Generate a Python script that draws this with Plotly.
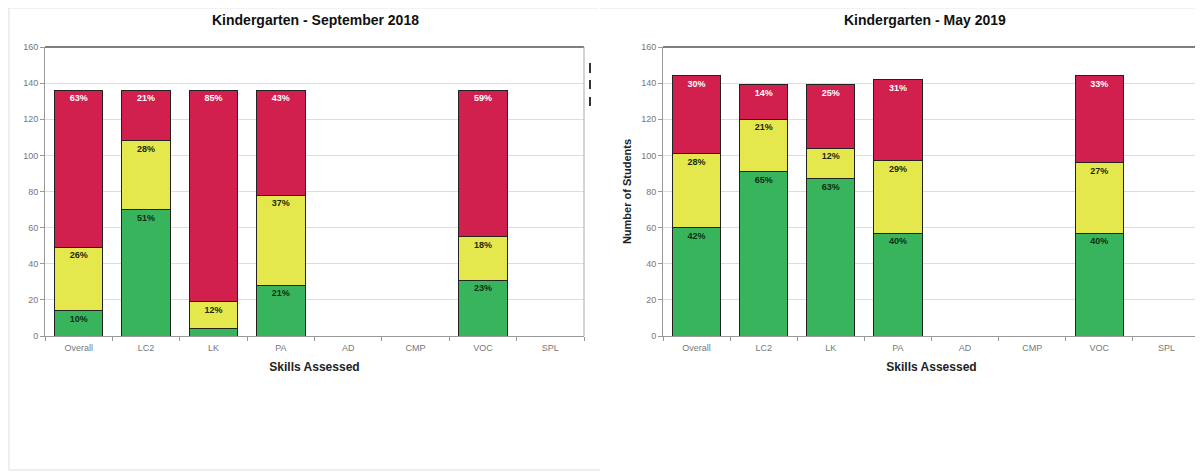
import plotly.graph_objects as go

# page body has an 8px margin; keep the figure inside the 1203x474 window
OFF = 8
W, H = 1203 - OFF, 474 - OFF

categories = ["Overall", "LC2", "LK", "PA", "AD", "CMP", "VOC", "SPL"]

# September 2018 (number of students per level)
sep_green = [14, 70, 4, 28, 0, 0, 31, 0]
sep_yellow = [35, 38, 15, 50, 0, 0, 24, 0]
sep_red = [87, 28, 117, 58, 0, 0, 81, 0]
sep_green_lbl = ["10%", "51%", "", "21%", "", "", "23%", ""]
sep_yellow_lbl = ["26%", "28%", "12%", "37%", "", "", "18%", ""]
sep_red_lbl = ["63%", "21%", "85%", "43%", "", "", "59%", ""]

# May 2019
may_green = [60, 91, 87, 57, 0, 0, 57, 0]
may_yellow = [41, 29, 17, 40, 0, 0, 39, 0]
may_red = [43, 19, 35, 45, 0, 0, 48, 0]
may_green_lbl = ["42%", "65%", "63%", "40%", "", "", "40%", ""]
may_yellow_lbl = ["28%", "21%", "12%", "29%", "", "", "27%", ""]
may_red_lbl = ["30%", "14%", "25%", "31%", "", "", "33%", ""]

GREEN = "#38b55c"
YELLOW = "#e4e84c"
RED = "#d2204e"
FONT = "Liberation Sans, Arial, sans-serif"

def X(p):
    return min(1.0, max(0.0, (p - OFF) / W))

def Y(p):
    return min(1.0, max(0.0, 1 - (p - OFF) / H))

fig = go.Figure()

def add_stack(xa, ya, g, y, r, gl, yl, rl):
    for vals, lbls, col, tcol in [(g, gl, GREEN, "#0d2e14"),
                                  (y, yl, YELLOW, "#1e2a0a"),
                                  (r, rl, RED, "#ffffff")]:
        fig.add_trace(go.Bar(
            x=categories, y=vals, text=lbls, xaxis=xa, yaxis=ya,
            marker=dict(color=col, line=dict(color="#222222", width=1)),
            textposition="inside", insidetextanchor="end", textangle=0,
            textfont=dict(color=tcol, size=9, family=FONT, weight="bold"),
            width=0.72, showlegend=False, hoverinfo="x+y",
        ))

add_stack("x", "y", sep_green, sep_yellow, sep_red, sep_green_lbl, sep_yellow_lbl, sep_red_lbl)
add_stack("x2", "y2", may_green, may_yellow, may_red, may_green_lbl, may_yellow_lbl, may_red_lbl)

ydom = [Y(336), Y(47)]
xax = dict(type="category", categoryorder="array", categoryarray=categories,
           range=[-0.5, 7.5], showline=True, linecolor="#999999", linewidth=1,
           ticks="outside", tickson="boundaries", ticklen=4, tickcolor="#999999",
           ticklabelstandoff=3,
           tickfont=dict(size=9, color="#777777", family=FONT),
           showgrid=False, mirror=False, automargin=False,
           title=dict(text="Skills Assessed", standoff=10,
                      font=dict(size=12, color="#222222", family=FONT, weight="bold")))
yax = dict(range=[0, 160], dtick=20, showline=True, linecolor="#999999", linewidth=1,
           ticks="outside", ticklen=4, tickcolor="#999999", automargin=False,
           tickfont=dict(size=9, color="#777777", family=FONT),
           gridcolor="#dddddd", gridwidth=1, zeroline=False, domain=ydom)

fig.update_layout(
    width=W, height=H, margin=dict(l=0, r=0, t=0, b=0, autoexpand=False),
    paper_bgcolor="white", plot_bgcolor="white", barmode="stack",
    font=dict(family=FONT),
    uniformtext=dict(minsize=9, mode="show"),
    xaxis=dict(xax, domain=[X(45), X(584)], anchor="y"),
    yaxis=dict(yax, anchor="x"),
    xaxis2=dict(xax, domain=[X(663), X(1200)], anchor="y2"),
    yaxis2=dict(yax, anchor="x2",
                title=dict(text="Number of Students", standoff=7,
                           font=dict(size=11, color="#222222", family=FONT, weight="bold"))),
    annotations=[
        dict(text="Kindergarten - September 2018", x=X(315), y=Y(20),
             xref="paper", yref="paper", showarrow=False, xanchor="center", yanchor="middle",
             font=dict(size=14, color="#111111", family=FONT, weight="bold")),
        dict(text="Kindergarten - May 2019", x=X(925), y=Y(20),
             xref="paper", yref="paper", showarrow=False, xanchor="center", yanchor="middle",
             font=dict(size=14, color="#111111", family=FONT, weight="bold")),
    ],
)

def px_line(x0, y0, x1, y1, color, width=1):
    return dict(type="line", xref="paper", yref="paper",
                x0=X(x0), x1=X(x1), y0=Y(y0), y1=Y(y1),
                line=dict(color=color, width=width))

shapes = [
    # plot area top / right borders
    px_line(45, 47, 584, 47, "#555555", 1.5),
    px_line(584, 47, 584, 336, "#aaaaaa", 1),
    px_line(663, 47, 1200, 47, "#555555", 1.5),
    px_line(1200, 47, 1200, 336, "#aaaaaa", 1),
    # outer panel frames
    px_line(9, 8, 9, 470, "#dddddd", 1),
    px_line(9, 8, 598, 8, "#e6e6e6", 1),
    px_line(9, 470, 600, 470, "#dddddd", 1),
    px_line(600, 8, 1195, 8, "#e6e6e6", 1),
    # legend remnants at right of left chart
    px_line(590, 63, 590, 73, "#333333", 2),
    px_line(590, 80, 590, 89, "#333333", 2),
    px_line(590, 97, 590, 106, "#333333", 2),
]
fig.update_layout(shapes=shapes)

fig.write_html("out.html")
